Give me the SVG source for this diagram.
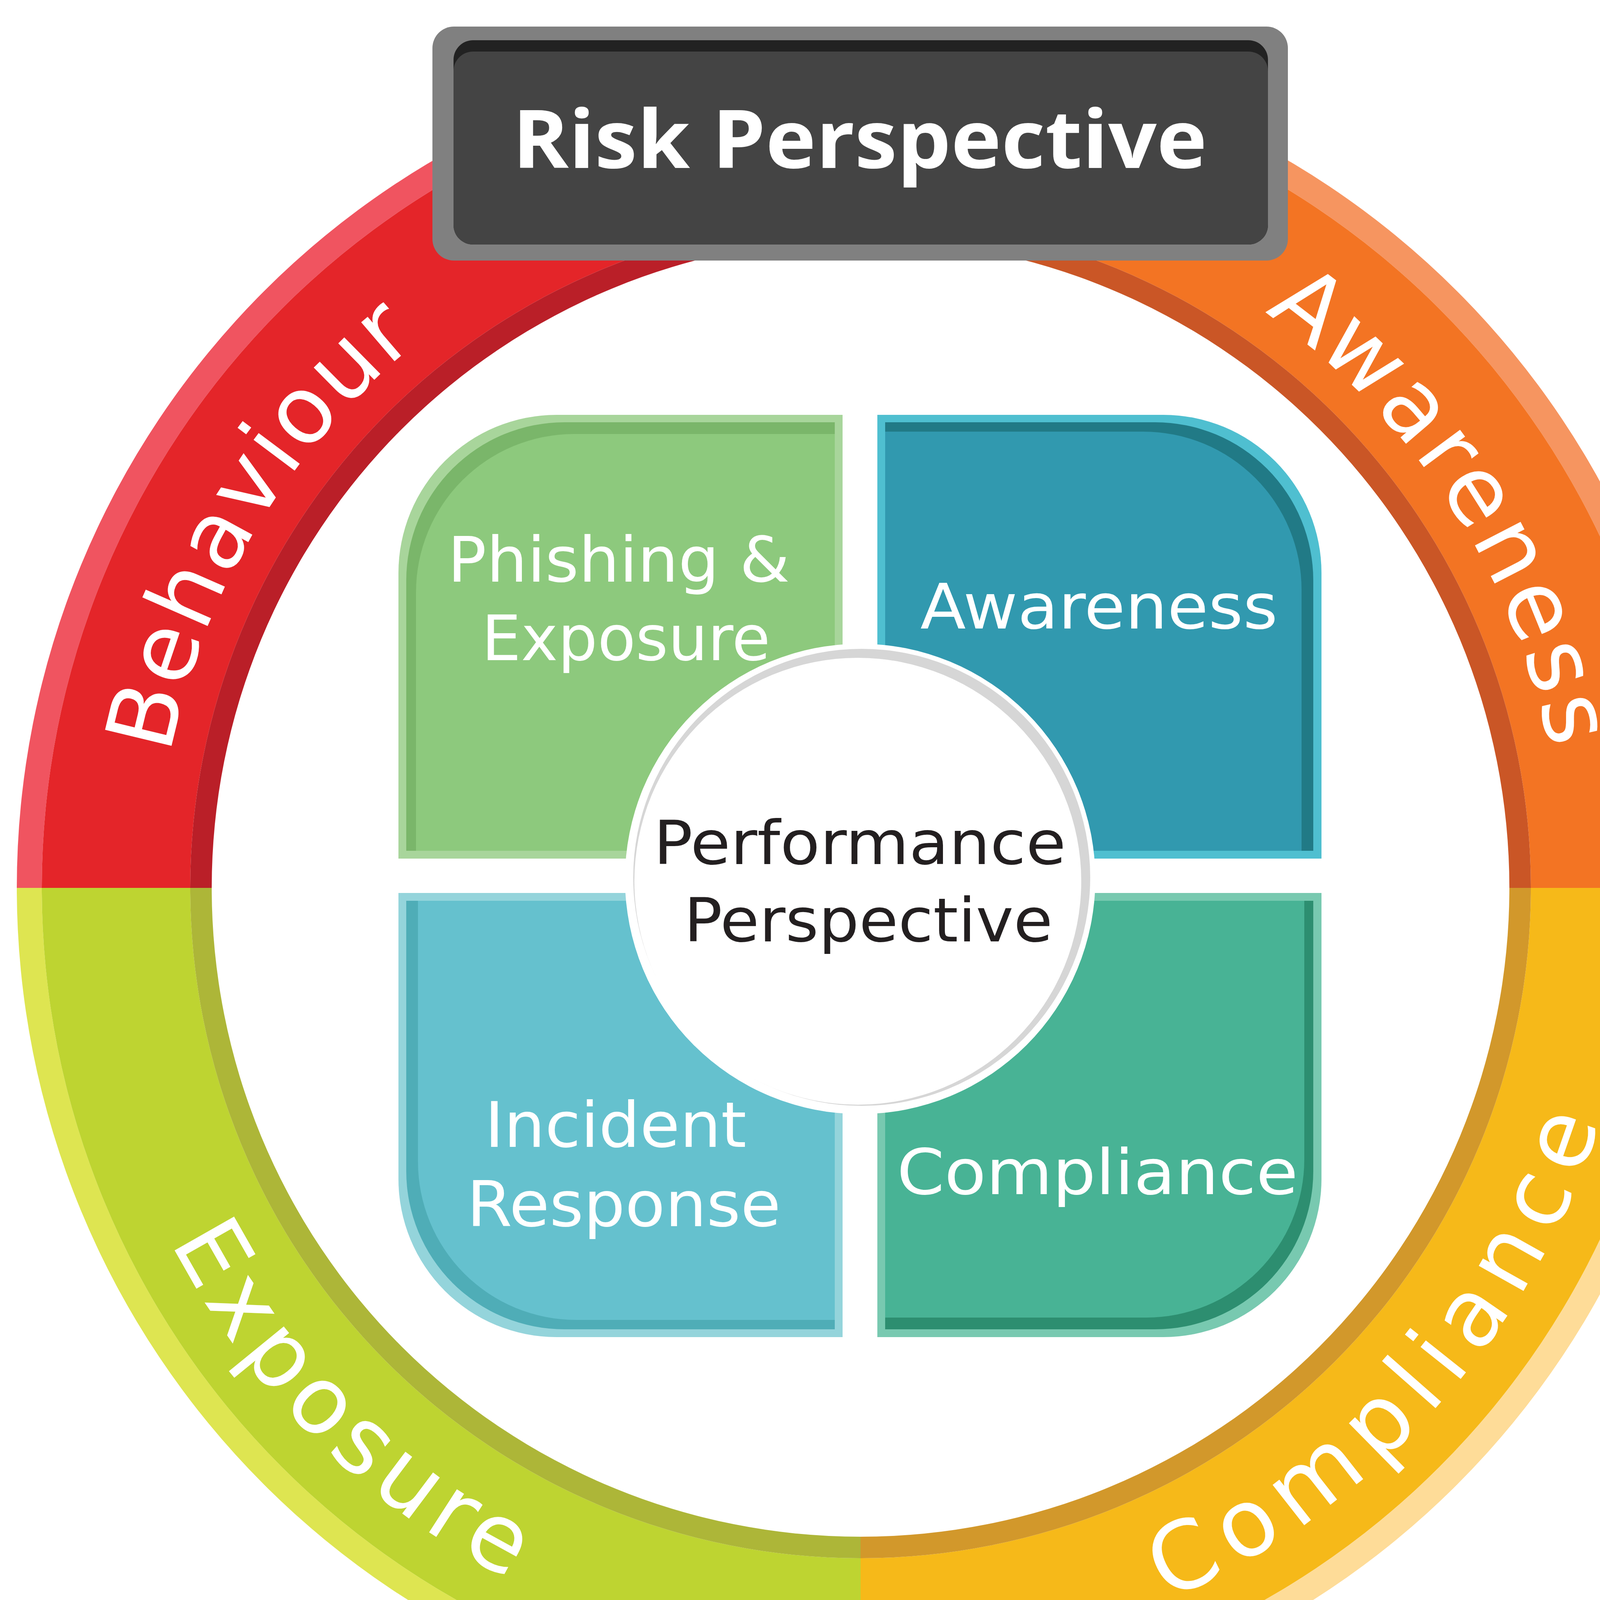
<svg xmlns="http://www.w3.org/2000/svg" width="4408" height="4500" viewBox="0 0 4408 4500">
<defs>
<style>
.ringtxt{font-family:"DejaVu Sans","Open Sans","Liberation Sans",sans-serif;font-size:240px;fill:#ffffff;}
.qtxt{font-family:"DejaVu Sans","Open Sans","Liberation Sans",sans-serif;font-size:160px;fill:#ffffff;}
.ctxt{font-family:"DejaVu Sans","Open Sans","Liberation Sans",sans-serif;font-size:155px;fill:#231F20;}
.htxt{font-family:"Open Sans","Noto Sans","Liberation Sans",sans-serif;font-size:207px;font-weight:bold;fill:#ffffff;}
</style>
<path id="arcBehaviour" d="M 628.7,3145.6 A 1800 1800 0 0 1 2234.4,473.3"/>
<path id="arcAwareness" d="M 2108.8,475.5 A 1800 1800 0 0 1 3806.8,3090.2"/>
<path id="arcCompliance" d="M 1800.5,4216.7 A 1985 1985 0 0 0 4087.6,1649.7"/>
<path id="arcExposure" d="M 282.1,1772.6 A 1985 1985 0 0 0 2730.2,4186.8"/>
</defs>
<rect x="0" y="0" width="4408" height="4500" fill="#ffffff"/>

<g id="ring-behaviour">
<path fill="#F05460" d="M 43,2273 A 2160 2160 0 0 1 2203,113 L 2203,177 A 2096 2096 0 0 0 107,2273 Z"/>
<path fill="#E42529" d="M 107,2273 A 2096 2096 0 0 1 2203,177 L 2203,557 A 1716 1716 0 0 0 487,2273 Z"/>
<path fill="#BA1F28" d="M 487,2273 A 1716 1716 0 0 1 2203,557 L 2203,612 A 1661 1661 0 0 0 542,2273 Z"/>
<text class="ringtxt" text-anchor="middle" letter-spacing="5"><textPath href="#arcBehaviour" startOffset="50%">Behaviour</textPath></text>
</g>

<g id="ring-awareness">
<path fill="#F69560" d="M 2203,113 A 2160 2160 0 0 1 4363,2273 L 4299,2273 A 2096 2096 0 0 0 2203,177 Z"/>
<path fill="#F37423" d="M 2203,177 A 2096 2096 0 0 1 4299,2273 L 3919,2273 A 1716 1716 0 0 0 2203,557 Z"/>
<path fill="#CA5626" d="M 2203,557 A 1716 1716 0 0 1 3919,2273 L 3864,2273 A 1661 1661 0 0 0 2203,612 Z"/>
<text class="ringtxt" text-anchor="middle" letter-spacing="10"><textPath href="#arcAwareness" startOffset="50%">Awareness</textPath></text>
</g>

<g id="ring-compliance">
<path fill="#FEDC98" d="M 4363,2273 A 2160 2160 0 0 1 2203,4433 L 2203,4369 A 2096 2096 0 0 0 4299,2273 Z"/>
<path fill="#F6B919" d="M 4299,2273 A 2096 2096 0 0 1 2203,4369 L 2203,3989 A 1716 1716 0 0 0 3919,2273 Z"/>
<path fill="#D2982B" d="M 3919,2273 A 1716 1716 0 0 1 2203,3989 L 2203,3934 A 1661 1661 0 0 0 3864,2273 Z"/>
<text class="ringtxt" text-anchor="middle" letter-spacing="32"><textPath href="#arcCompliance" startOffset="50%">Compliance</textPath></text>
</g>

<g id="ring-exposure">
<path fill="#DEE551" d="M 2203,4433 A 2160 2160 0 0 1 43,2273 L 107,2273 A 2096 2096 0 0 0 2203,4369 Z"/>
<path fill="#BED431" d="M 2203,4369 A 2096 2096 0 0 1 107,2273 L 487,2273 A 1716 1716 0 0 0 2203,3989 Z"/>
<path fill="#ADB638" d="M 2203,3989 A 1716 1716 0 0 1 487,2273 L 542,2273 A 1661 1661 0 0 0 2203,3934 Z"/>
<text class="ringtxt" text-anchor="middle" letter-spacing="19"><textPath href="#arcExposure" startOffset="50%">Exposure</textPath></text>
</g>

<g id="header-risk-perspective">
<rect x="1107" y="68" width="2190" height="599" rx="55" ry="55" fill="#808080"/>
<rect x="1161" y="103" width="2085" height="523" rx="50" ry="50" fill="#222222"/>
<rect x="1161" y="132" width="2085" height="494" rx="50" ry="50" fill="#444444"/>
<text class="htxt" x="1312" y="430" textLength="1778" lengthAdjust="spacingAndGlyphs">Risk Perspective</text>
</g>

<g id="quad-phishing-exposure">
<path fill="#A8D59B" d="M 1020,1467 A 405 405 0 0 1 1425,1062 L 2157,1062 L 2157,2198 L 1020,2198 Z"/>
<path fill="#7AB66A" d="M 1040,1486 A 405 405 0 0 1 1445,1081 L 2137,1081 L 2137,2178 L 1040,2178 Z"/>
<path fill="#8DC97D" d="M 1065,1516 A 405 405 0 0 1 1470,1111 L 2137,1111 L 2137,2178 L 1065,2178 Z"/>
<text class="qtxt" x="1146" y="1489" textLength="876" lengthAdjust="spacingAndGlyphs">Phishing &amp;</text>
<text class="qtxt" x="1233" y="1690" textLength="739" lengthAdjust="spacingAndGlyphs">Exposure</text>
</g>

<g id="quad-awareness">
<path fill="#4FBFD0" d="M 2246,1062 L 2978,1062 A 405 405 0 0 1 3383,1467 L 3383,2198 L 2246,2198 Z"/>
<path fill="#217A86" d="M 2266,1081 L 2957,1081 A 405 405 0 0 1 3362,1486 L 3362,2178 L 2266,2178 Z"/>
<path fill="#3199AF" d="M 2266,1105 L 2927,1105 A 405 405 0 0 1 3332,1510 L 3332,2178 L 2266,2178 Z"/>
<text class="qtxt" x="2356" y="1609" textLength="915" lengthAdjust="spacingAndGlyphs">Awareness</text>
</g>

<g id="quad-incident-response">
<path fill="#94D4DB" d="M 1020,2286 L 2157,2286 L 2157,3423 L 1425,3423 A 405 405 0 0 1 1020,3018 Z"/>
<path fill="#4FADB7" d="M 1040,2306 L 2137,2306 L 2137,3403 L 1445,3403 A 405 405 0 0 1 1040,2998 Z"/>
<path fill="#65C1CE" d="M 1070,2306 L 2137,2306 L 2137,3379 L 1475,3379 A 405 405 0 0 1 1070,2974 Z"/>
<text class="qtxt" x="1241" y="2936" textLength="670" lengthAdjust="spacingAndGlyphs">Incident</text>
<text class="qtxt" x="1195" y="3139" textLength="804" lengthAdjust="spacingAndGlyphs">Response</text>
</g>

<g id="quad-compliance">
<path fill="#78C9B0" d="M 2246,2286 L 3383,2286 L 3383,3018 A 405 405 0 0 1 2978,3423 L 2246,3423 Z"/>
<path fill="#2D8E70" d="M 2266,2306 L 3362,2306 L 3362,2998 A 405 405 0 0 1 2957,3403 L 2266,3403 Z"/>
<path fill="#48B395" d="M 2266,2306 L 3339,2306 L 3339,2968 A 405 405 0 0 1 2934,3373 L 2266,3373 Z"/>
<text class="qtxt" x="2296" y="3057" textLength="1027" lengthAdjust="spacingAndGlyphs">Compliance</text>
</g>

<g id="center-performance-perspective">
<circle cx="2202" cy="2250" r="602" fill="#ffffff"/>
<circle cx="2206" cy="2246" r="585" fill="#D6D6D6"/>
<circle cx="2196" cy="2256" r="572" fill="#ffffff"/>
<text class="ctxt" x="1673" y="2212" textLength="1056" lengthAdjust="spacingAndGlyphs">Performance</text>
<text class="ctxt" x="1751" y="2410" textLength="944" lengthAdjust="spacingAndGlyphs">Perspective</text>
</g>

<g id="connectors"></g>
</svg>
